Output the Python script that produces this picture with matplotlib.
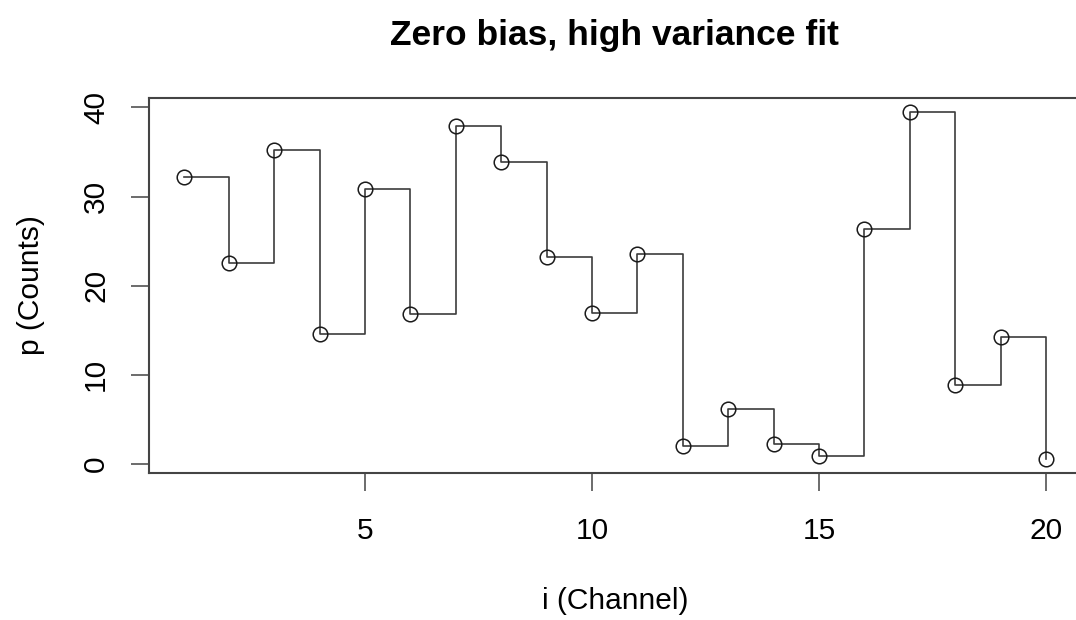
import numpy as np
import matplotlib
matplotlib.use("Agg")
import matplotlib.pyplot as plt

# channel index and counts of the fitted curve
channel = np.arange(1, 21)
counts = [32.2, 22.6, 35.2, 14.6, 30.9, 16.8, 37.9, 33.9, 23.2, 17.0,
          23.6, 2.05, 6.2, 2.2, 0.86, 26.4, 39.5, 8.86, 14.3, 0.56]
x_ticks = [5, 10, 15, 20]
y_ticks = [0, 10, 20, 30, 40]

plt.rcParams['font.family'] = ['Liberation Sans', 'DejaVu Sans']


def r_limits(values, frac=0.04):
    """Axis range padded by 4% on each side, the way R does it."""
    lo, hi = min(values), max(values)
    pad = (hi - lo) * frac
    return lo - pad, hi + pad


def creer_graphe(nom_fichier_png):
    W, H = 1076, 620
    fig = plt.figure(figsize=(W / 100, H / 100), dpi=100)
    ax = fig.add_axes([149 / W, 1 - 473 / H, 931.5 / W, 375 / H])

    ax.plot(channel, counts, drawstyle='steps-post', color='#3c3c3c', lw=1.2)
    ax.plot(channel, counts, 'o', mfc='none', mec='#1a1a1a', mew=1.1, ms=10.5)

    ax.set_xlim(*r_limits(channel))
    ax.set_ylim(*r_limits(counts))
    ax.set_xticks(x_ticks)
    ax.set_yticks(y_ticks)

    for sp in ax.spines.values():
        sp.set_color('#444444')
        sp.set_linewidth(1.5)

    ax.tick_params(axis='both', length=13, width=1.1, color='#444444',
                   labelsize=21.5)
    ax.tick_params(axis='x', pad=19)
    ax.tick_params(axis='y', pad=15)
    for lab in ax.get_yticklabels():
        lab.set_rotation(90)
        lab.set_va('center')

    ax.set_xlabel("i (Channel)", fontsize=21.5)
    ax.set_ylabel("p (Counts)", fontsize=21.5)
    ax.xaxis.set_label_coords(0.5, -(601 - 473) / 375)
    ax.xaxis.label.set_va('center')
    ax.yaxis.set_label_coords((31 - 149) / 931.5, 0.5)
    ax.yaxis.label.set_va('center')

    fig.text((149 + 1080.5) / 2 / W, 1 - 45 / H, "Zero bias, high variance fit",
             ha='center', va='baseline', fontsize=25.5, fontweight='bold')

    fig.savefig(nom_fichier_png, dpi=100, facecolor='white')
    plt.close(fig)


if __name__ == "__main__":
    creer_graphe("out.png")
